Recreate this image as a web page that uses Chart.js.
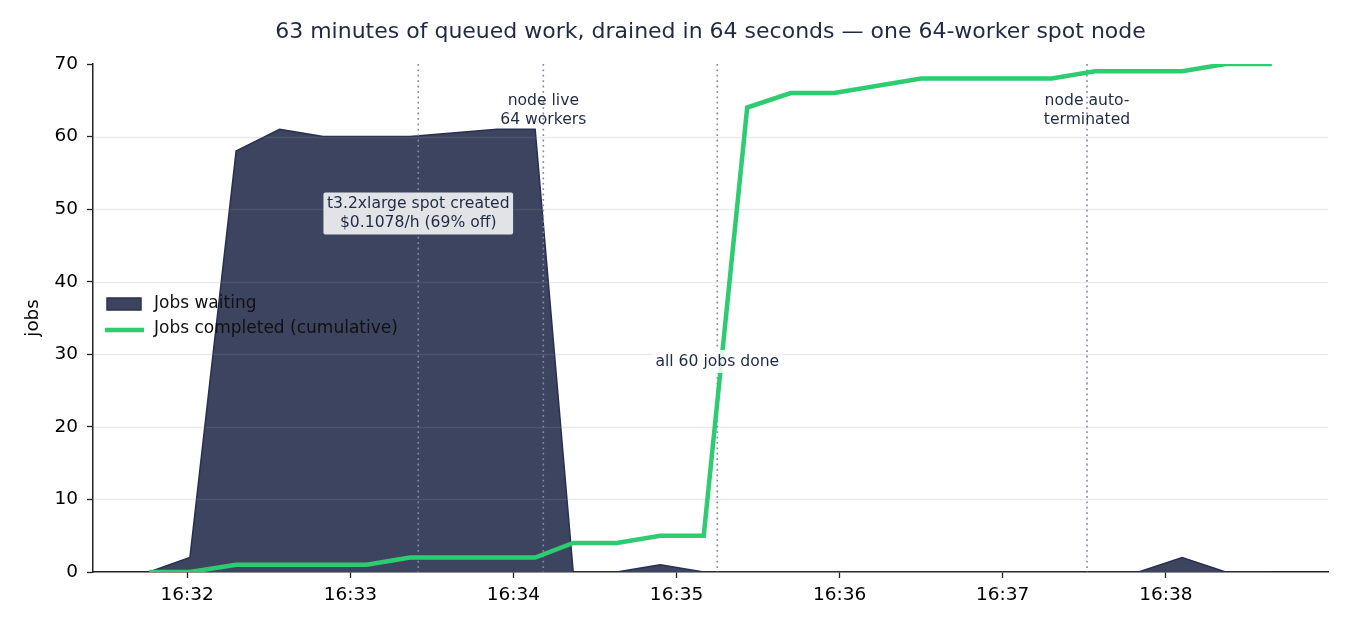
<!DOCTYPE html>
<html>
<head>
<meta charset="utf-8">
<title>Queue drain</title>
<script src="https://cdn.jsdelivr.net/npm/chart.js@4.4.1/dist/chart.umd.min.js"></script>
<style>
    html, body { margin: 0; padding: 0; background: #fff; }
    #wrap { width: 1350px; height: 630px; }
</style>
</head>
<body>
<div id="wrap"><canvas id="chart" width="1350" height="630"></canvas></div>
<script>
const chartTitle = '63 minutes of queued work, drained in 64 seconds \u2014 one 64-worker spot node'

// samples (hh:mm:ss)
const times = [
    '16:31:46', '16:32:01', '16:32:18', '16:32:34', '16:32:50', '16:33:06', '16:33:22',
    '16:33:54', '16:34:08', '16:34:22', '16:34:38', '16:34:54', '16:35:10', '16:35:26',
    '16:35:42', '16:35:58', '16:36:14', '16:36:30', '16:36:46', '16:37:02', '16:37:18',
    '16:37:34', '16:37:50', '16:38:06', '16:38:22', '16:38:39'
]
const jobsWaiting = [
    0, 2, 58, 61, 60, 60, 60,
    61, 61, 0, 0, 1, 0, 0,
    0, 0, 0, 0, 0, 0, 0,
    0, 0, 2, 0, 0
]
const jobsCompleted = [
    0, 0, 1, 1, 1, 1, 2,
    2, 2, 4, 4, 5, 5, 64,
    66, 66, 67, 68, 68, 68, 68,
    69, 69, 69, 70, 70
]
const tickLabels = ['16:32', '16:33', '16:34', '16:35', '16:36', '16:37', '16:38']
const yTicks = [0, 10, 20, 30, 40, 50, 60, 70]

// events
const markerTimes = ['16:33:25', '16:34:11', '16:35:15', '16:37:31']
const markerNotes = [
    ['t3.2xlarge spot created', '$0.1078/h (69% off)'],
    ['node live', '64 workers'],
    ['all 60 jobs done'],
    ['node auto-', 'terminated']
]
const markerNoteLevels = [49.4, 63.6, 29.0, 63.6]

const FONT = '"DejaVu Sans", "Noto Sans", sans-serif'
const NAVY = '#1f2a44'
const AREA_FILL = '#3c4460'
const AREA_EDGE = '#283050'
const GREEN = '#2ecc71'

function sec(t) {
    const p = t.split(':').map(Number)
    return p[0] * 3600 + p[1] * 60 + (p[2] || 0)
}
function hhmm(s) {
    const h = Math.floor(s / 3600)
    const m = Math.round((s % 3600) / 60)
    return h + ':' + String(m).padStart(2, '0')
}

const xs = times.map(sec)
const span = xs[xs.length - 1] - xs[0]

const overlay = {
    id: 'overlay',
    afterDatasetDraw(chart, args) {
        if (chart.data.datasets[args.index].label !== 'Jobs waiting') return
        const { ctx, chartArea: a, scales: { x, y } } = chart
        ctx.save()
        // grid sits above the area, like the original
        ctx.strokeStyle = 'rgba(150,150,150,0.2)'
        ctx.lineWidth = 1.3
        yTicks.slice(1, -1).forEach(v => {
            const py = Math.round(y.getPixelForValue(v)) + 0.5
            ctx.beginPath()
            ctx.moveTo(a.left, py)
            ctx.lineTo(a.right, py)
            ctx.stroke()
        })
        // event markers
        ctx.strokeStyle = '#8289a3'
        ctx.lineWidth = 1.6
        ctx.setLineDash([1.8, 3.6])
        markerTimes.forEach(t => {
            const px = x.getPixelForValue(sec(t))
            ctx.beginPath()
            ctx.moveTo(px, a.top)
            ctx.lineTo(px, a.bottom)
            ctx.stroke()
        })
        ctx.restore()
    },
    afterDatasetsDraw(chart) {
        const { ctx, chartArea: a, scales: { x, y } } = chart
        ctx.save()
        // title
        ctx.fillStyle = NAVY
        ctx.font = '22px ' + FONT
        ctx.textAlign = 'center'
        ctx.textBaseline = 'middle'
        ctx.fillText(chartTitle, (a.left + a.right) / 2, 32)

        // notes
        ctx.font = '15.6px ' + FONT
        const lh = 19
        markerNotes.forEach((lines, i) => {
            const cx = x.getPixelForValue(sec(markerTimes[i]))
            const cy = y.getPixelForValue(markerNoteLevels[i])
            const top = cy - (lines.length - 1) * lh / 2
            if (i === 0 || i === 2) {
                const w = Math.max(...lines.map(l => ctx.measureText(l).width)) + 7
                const h = lines.length * lh + 4
                ctx.fillStyle = 'rgba(255,255,255,0.85)'
                ctx.beginPath()
                ctx.roundRect(cx - w / 2, cy - h / 2, w, h, 2)
                ctx.fill()
            }
            ctx.fillStyle = NAVY
            lines.forEach((l, k) => ctx.fillText(l, cx, top + k * lh))
        })

        // legend
        const ds = chart.data.datasets
        ctx.font = '17px ' + FONT
        ctx.textAlign = 'left'
        ctx.fillStyle = ds[0].backgroundColor
        ctx.fillRect(107, 298, 34, 12)
        ctx.strokeStyle = ds[0].borderColor
        ctx.lineWidth = 1.5
        ctx.strokeRect(107, 298, 34, 12)
        ctx.strokeStyle = ds[1].borderColor
        ctx.lineWidth = 4.5
        ctx.beginPath()
        ctx.moveTo(105, 330)
        ctx.lineTo(144, 330)
        ctx.stroke()
        ctx.fillStyle = '#111'
        ctx.fillText(ds[0].label, 154, 304)
        ctx.fillText(ds[1].label, 154, 329)
        ctx.restore()
    }
}

const chart = new Chart(document.getElementById('chart'), {
    type: 'line',
    data: {
        datasets: [
            {
                label: 'Jobs waiting',
                data: xs.map((t, i) => ({ x: t, y: jobsWaiting[i] })),
                fill: 'origin',
                backgroundColor: AREA_FILL,
                borderColor: AREA_EDGE,
                borderWidth: 1.5,
                pointRadius: 0,
                tension: 0,
                order: 2
            },
            {
                label: 'Jobs completed (cumulative)',
                data: xs.map((t, i) => ({ x: t, y: jobsCompleted[i] })),
                fill: false,
                borderColor: GREEN,
                borderWidth: 4.5,
                pointRadius: 0,
                tension: 0,
                order: 1
            }
        ]
    },
    options: {
        responsive: false,
        animation: false,
        devicePixelRatio: 1,
        layout: { padding: { top: 64, right: 22, left: 0, bottom: 0 } },
        plugins: {
            legend: { display: false },
            tooltip: { enabled: false }
        },
        scales: {
            x: {
                type: 'linear',
                min: xs[0] - span * 0.05,
                max: xs[xs.length - 1] + span * 0.05,
                afterBuildTicks: scale => {
                    scale.ticks = tickLabels.map(l => ({ value: sec(l + ':00') }))
                },
                afterFit: scale => { scale.height = 58 },
                grid: { drawOnChartArea: false, tickLength: 6, tickColor: '#222', tickWidth: 1.3 },
                border: { display: true, color: '#222', width: 1.5 },
                ticks: {
                    autoSkip: false,
                    maxRotation: 0,
                    padding: 6,
                    color: '#000',
                    font: { family: FONT, size: 18.5 },
                    callback: v => hhmm(v)
                }
            },
            y: {
                min: 0,
                max: 70,
                afterBuildTicks: scale => {
                    scale.ticks = yTicks.map(v => ({ value: v }))
                },
                afterFit: scale => { scale.width = 93 },
                grid: { drawOnChartArea: false, tickLength: 6, tickColor: '#222', tickWidth: 1.3 },
                border: { display: true, color: '#222', width: 1.5 },
                ticks: {
                    padding: 9,
                    color: '#000',
                    font: { family: FONT, size: 18.5 }
                },
                title: {
                    display: true,
                    text: 'jobs',
                    color: '#000',
                    font: { family: FONT, size: 18.3 },
                    padding: { top: 22, bottom: 0 }
                }
            }
        }
    },
    plugins: [overlay]
})
</script>
</body>
</html>
